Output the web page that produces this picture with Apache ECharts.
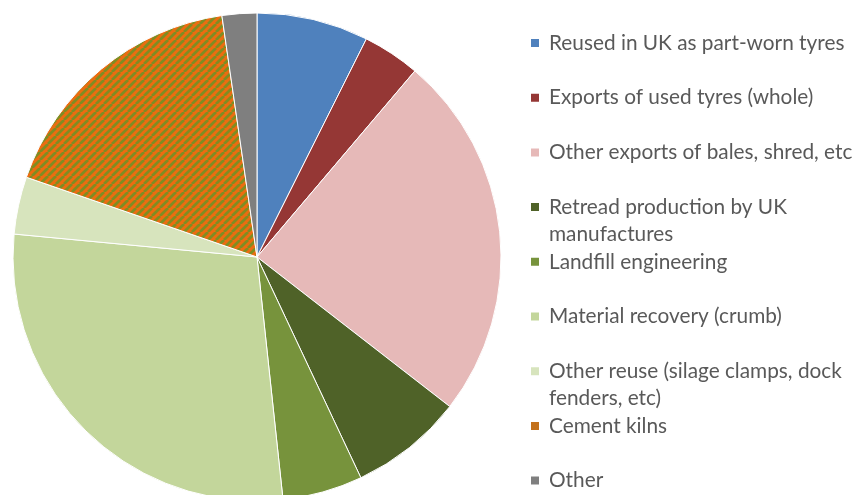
<!DOCTYPE html>
<html>
<head>
<meta charset="utf-8">
<script src="https://cdn.jsdelivr.net/npm/echarts@6/dist/echarts.min.js"></script>
<style>
  html, body { margin: 0; padding: 0; background: #ffffff; }
  #chart { width: 859px; height: 495px; }
</style>
</head>
<body>
<div id="chart"></div>
<script>
// End-of-life tyre destinations (share of arisings, %)
const categories = [
  'Reused in UK as part-worn tyres',
  'Exports of used tyres (whole)',
  'Other exports of bales, shred, etc',
  'Retread production by UK\nmanufactures',
  'Landfill engineering',
  'Material recovery (crumb)',
  'Other reuse (silage clamps, dock\nfenders, etc)',
  'Cement kilns',
  'Other'
];
const values = [7.4, 3.8, 24.3, 7.5, 5.3, 28.2, 3.8, 17.4, 2.3];
const colors = ['#4f81bd', '#953735', '#e6b9b8', '#4f6228', '#77933c', '#c3d69b', '#d7e4bd', 'cement', '#7f7f7f'];

// Cement kilns slice: orange with olive diagonal hatching
function hatchPattern() {
  const size = 8;
  const c = document.createElement('canvas');
  c.width = size; c.height = size;
  const g = c.getContext('2d');
  g.fillStyle = '#ec6c10';
  g.fillRect(0, 0, size, size);
  g.strokeStyle = '#7f8d22';
  g.lineWidth = 2.8;
  g.beginPath();
  for (let k = -1; k <= 1; k++) {
    g.moveTo(k * size, size);
    g.lineTo(k * size + size, 0);
  }
  g.stroke();
  return { image: c, repeat: 'repeat' };
}
const cementFill = hatchPattern();
const cementSwatch = '#c3711c';

const FONT = 'Lato';
const FONT_SIZE = 20.8;
const LINE_H = 27;
const legendLeft = 529;
const legendFirst = 43;
const legendStep = 54.7;

const chart = echarts.init(document.getElementById('chart'), null, { renderer: 'canvas' });

const legends = categories.map((name, i) => {
  const lines = name.split('\n').length;
  const center = legendFirst + i * legendStep;
  return {
    data: [{
      name: name,
      itemStyle: { color: colors[i] === 'cement' ? cementSwatch : colors[i] },
      icon: 'rect'
    }],
    orient: 'vertical',
    left: legendLeft,
    top: lines > 1 ? center - LINE_H * 1.5 : center - LINE_H / 2,
    padding: 0,
    itemWidth: 10,
    itemHeight: 10,
    selectedMode: false,
    // a blank leading line keeps the swatch level with the first text line
    formatter: n => (n.indexOf('\n') >= 0 ? '\n' + n : n),
    textStyle: {
      fontFamily: FONT,
      fontSize: FONT_SIZE,
      lineHeight: LINE_H,
      color: '#595959',
      padding: [0, 0, 0, 4]
    }
  };
});

chart.setOption({
  animation: false,
  backgroundColor: '#ffffff',
  legend: legends,
  series: [{
    type: 'pie',
    center: [257, 257],
    radius: 244,
    startAngle: 90,
    clockwise: true,
    label: { show: false },
    labelLine: { show: false },
    emphasis: { disabled: true },
    itemStyle: { borderColor: '#ffffff', borderWidth: 1 },
    data: categories.map((name, i) => ({
      name: name,
      value: values[i],
      itemStyle: { color: colors[i] === 'cement' ? cementFill : colors[i] }
    }))
  }]
});
</script>
</body>
</html>
